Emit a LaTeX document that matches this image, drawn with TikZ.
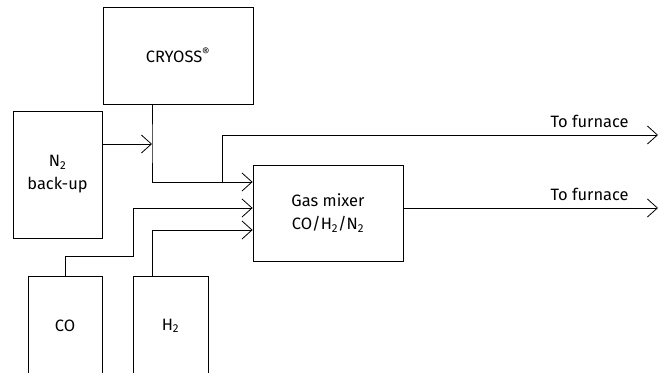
\documentclass[tikz,border=0pt]{standalone}
\usepackage{fontspec}
\setmainfont{Fira Sans}
\usetikzlibrary{arrows.meta}

\begin{document}
\begin{tikzpicture}[x=1bp, y=-1bp, line width=0.8bp,
    box/.style={draw, rectangle, align=center, inner sep=0pt, font=\fontsize{16.5}{23}\selectfont},
    flow/.style={-{Straight Barb[length=10bp, width=18bp, line width=0.8bp]}},
    label/.style={font=\fontsize{16.5}{20}\selectfont, inner sep=0pt}]
            \useasboundingbox (0,0) rectangle (668,372);
            \clip (0,0) rectangle (668,372);
            % sources
            \node (cryoss) [box, minimum width=150bp, minimum height=97bp] at (178,55.5) {CRYOSS\textsuperscript{\textregistered}};
            \node (backup) [box, minimum width=89bp, minimum height=127bp] at (57.5,174.5) {N\textsubscript{2}\\back-up};
            \node (co) [box, minimum width=74bp, minimum height=100bp] at (65,326) {CO};
            \node (hyd) [box, minimum width=75bp, minimum height=100bp] at (170.5,326) {H\textsubscript{2}};
            \node (mixer) [box, minimum width=150bp, minimum height=96bp] at (328,213) {Gas mixer\\CO/H\textsubscript{2}/N\textsubscript{2}};
            % junctions and outlets
            \coordinate (join) at (152,144);
            \coordinate (split) at (222,182);
            \coordinate (out1) at (658,135);
            \coordinate (out2) at (658,208);
            \draw [flow] (backup.east |- join) -- (join);
            \draw (cryoss.south -| join) -- (join) |- (split);
            \draw [flow] (split) -- (mixer.west |- split);
            \draw [flow] (split) |- (out1);
            \draw [flow] (mixer.east |- out2) -- (out2);
            \draw [flow] (co.north) -- ++(0,-19) -| (133,208) -- (mixer.west |- 0,208);
            \draw [flow] (hyd.north -| join) |- (mixer.west |- 0,230);
            \node [label, anchor=base east] at (629,127) {To furnace};
            \node [label, anchor=base east] at (629,200) {To furnace};
        \end{tikzpicture}
\end{document}
